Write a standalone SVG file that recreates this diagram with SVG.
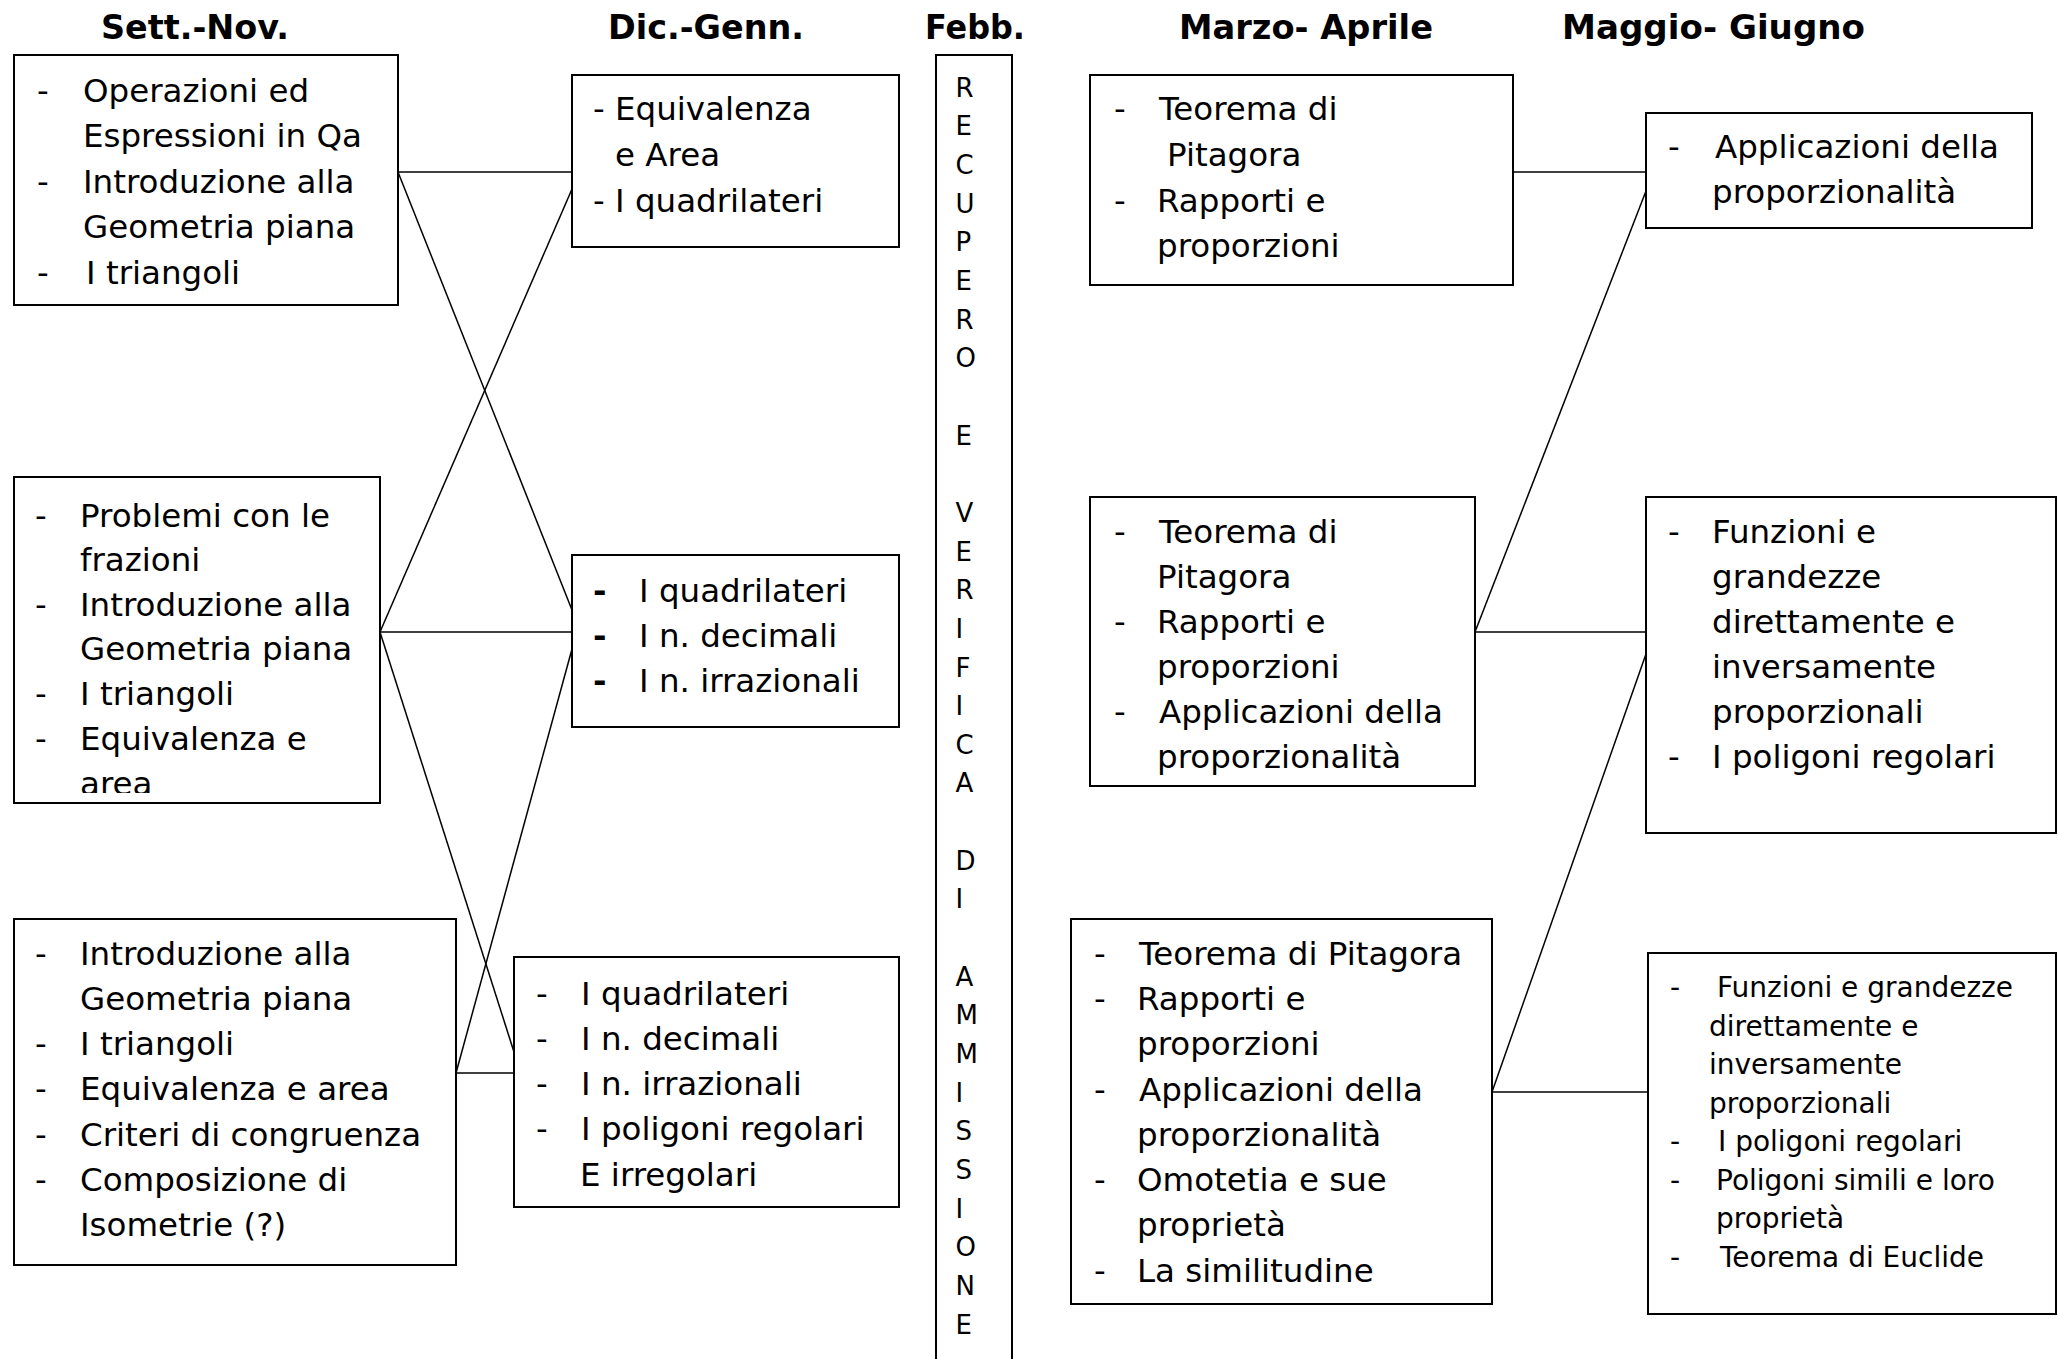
<svg xmlns="http://www.w3.org/2000/svg" width="2058" height="1359" viewBox="0 0 2058 1359">
<style>
.bg{fill:#fff}
.box{fill:#fff;stroke:#000;stroke-width:2}
.c line{stroke:#000;stroke-width:1.5}
text{font-family:"DejaVu Sans",Verdana,sans-serif;fill:#000}
.t{font-size:32.5px}
.s{font-size:28px}
.h{font-size:33px;font-weight:bold}
.v{font-size:26px}
.b{font-weight:bold}
</style>
<defs>
<clipPath id="clipA2"><rect x="14" y="477" width="366" height="316"/></clipPath>
</defs>
<rect class="bg" x="0" y="0" width="2058" height="1359"/>

<g id="headers">
<text class="h" x="101" y="39" textLength="188" lengthAdjust="spacingAndGlyphs">Sett.-Nov.</text>
<text class="h" x="608" y="39" textLength="196" lengthAdjust="spacingAndGlyphs">Dic.-Genn.</text>
<text class="h" x="925" y="39" textLength="100" lengthAdjust="spacingAndGlyphs">Febb.</text>
<text class="h" x="1179" y="39" textLength="254" lengthAdjust="spacingAndGlyphs">Marzo- Aprile</text>
<text class="h" x="1562" y="39" textLength="303" lengthAdjust="spacingAndGlyphs">Maggio- Giugno</text>
</g>

<g id="connectors" class="c">
<line x1="398" y1="172" x2="572" y2="172"/>
<line x1="398" y1="172" x2="572" y2="610"/>
<line x1="380" y1="632" x2="572" y2="189"/>
<line x1="380" y1="632" x2="572" y2="632"/>
<line x1="380" y1="632" x2="514" y2="1052"/>
<line x1="456" y1="1073" x2="572" y2="649"/>
<line x1="456" y1="1073" x2="514" y2="1073"/>
<line x1="1513" y1="172" x2="1646" y2="172"/>
<line x1="1475" y1="632" x2="1646" y2="191"/>
<line x1="1475" y1="632" x2="1646" y2="632"/>
<line x1="1492" y1="1092" x2="1646" y2="654"/>
<line x1="1492" y1="1092" x2="1648" y2="1092"/>
</g>

<g id="node-a1">
<rect class="box" x="14" y="55" width="384" height="250"/>
<text class="t"><tspan x="37" y="102">-</tspan><tspan x="83" y="102">Operazioni ed</tspan><tspan x="83" y="147">Espressioni in Qa</tspan><tspan x="37" y="193">-</tspan><tspan x="83" y="193">Introduzione alla</tspan><tspan x="83" y="238">Geometria piana</tspan><tspan x="37" y="284">-</tspan><tspan x="86" y="284">I triangoli</tspan></text>
</g>

<g id="node-a2">
<rect class="box" x="14" y="477" width="366" height="326"/>
<text class="t" clip-path="url(#clipA2)"><tspan x="35" y="527">-</tspan><tspan x="80" y="527">Problemi con le</tspan><tspan x="80" y="571">frazioni</tspan><tspan x="35" y="616">-</tspan><tspan x="80" y="616">Introduzione alla</tspan><tspan x="80" y="660">Geometria piana</tspan><tspan x="35" y="705">-</tspan><tspan x="80" y="705">I triangoli</tspan><tspan x="35" y="750">-</tspan><tspan x="80" y="750">Equivalenza e</tspan><tspan x="80" y="795">area</tspan></text>
</g>

<g id="node-a3">
<rect class="box" x="14" y="919" width="442" height="346"/>
<text class="t"><tspan x="35" y="965">-</tspan><tspan x="80" y="965">Introduzione alla</tspan><tspan x="80" y="1010">Geometria piana</tspan><tspan x="35" y="1055">-</tspan><tspan x="80" y="1055">I triangoli</tspan><tspan x="35" y="1100">-</tspan><tspan x="80" y="1100">Equivalenza e area</tspan><tspan x="35" y="1146">-</tspan><tspan x="80" y="1146">Criteri di congruenza</tspan><tspan x="35" y="1191">-</tspan><tspan x="80" y="1191">Composizione di</tspan><tspan x="80" y="1236">Isometrie (?)</tspan></text>
</g>

<g id="node-b1">
<rect class="box" x="572" y="75" width="327" height="172"/>
<text class="t"><tspan x="593" y="120">- Equivalenza</tspan><tspan x="615" y="166">e Area</tspan><tspan x="593" y="212">- I quadrilateri</tspan></text>
</g>

<g id="node-b2">
<rect class="box" x="572" y="555" width="327" height="172"/>
<text class="t"><tspan class="b" x="593" y="602">-</tspan><tspan x="639" y="602">I quadrilateri</tspan><tspan class="b" x="593" y="647">-</tspan><tspan x="639" y="647">I n. decimali</tspan><tspan class="b" x="593" y="692">-</tspan><tspan x="639" y="692">I n. irrazionali</tspan></text>
</g>

<g id="node-b3">
<rect class="box" x="514" y="957" width="385" height="250"/>
<text class="t"><tspan x="536" y="1005">-</tspan><tspan x="581" y="1005">I quadrilateri</tspan><tspan x="536" y="1050">-</tspan><tspan x="581" y="1050">I n. decimali</tspan><tspan x="536" y="1095">-</tspan><tspan x="581" y="1095">I n. irrazionali</tspan><tspan x="536" y="1140">-</tspan><tspan x="581" y="1140">I poligoni regolari</tspan><tspan x="580" y="1186">E irregolari</tspan></text>
</g>

<g id="node-febb">
<rect class="box" x="936" y="55" width="76" height="1320"/>
<text class="v"><tspan x="955.5" y="96.7">R</tspan><tspan x="955.5" y="135.4">E</tspan><tspan x="955.5" y="174">C</tspan><tspan x="955.5" y="212.7">U</tspan><tspan x="955.5" y="251.3">P</tspan><tspan x="955.5" y="290">E</tspan><tspan x="955.5" y="328.6">R</tspan><tspan x="955.5" y="367.3">O</tspan><tspan x="955.5" y="444.6">E</tspan><tspan x="955.5" y="521.9">V</tspan><tspan x="955.5" y="560.5">E</tspan><tspan x="955.5" y="599.2">R</tspan><tspan x="955.5" y="637.8">I</tspan><tspan x="955.5" y="676.5">F</tspan><tspan x="955.5" y="715.1">I</tspan><tspan x="955.5" y="753.8">C</tspan><tspan x="955.5" y="792.4">A</tspan><tspan x="955.5" y="869.7">D</tspan><tspan x="955.5" y="908.4">I</tspan><tspan x="955.5" y="985.7">A</tspan><tspan x="955.5" y="1024.3">M</tspan><tspan x="955.5" y="1063">M</tspan><tspan x="955.5" y="1101.6">I</tspan><tspan x="955.5" y="1140.3">S</tspan><tspan x="955.5" y="1178.9">S</tspan><tspan x="955.5" y="1217.6">I</tspan><tspan x="955.5" y="1256.2">O</tspan><tspan x="955.5" y="1294.9">N</tspan><tspan x="955.5" y="1333.5">E</tspan></text>
</g>

<g id="node-c1">
<rect class="box" x="1090" y="75" width="423" height="210"/>
<text class="t"><tspan x="1114" y="120">-</tspan><tspan x="1159" y="120">Teorema di</tspan><tspan x="1167" y="166">Pitagora</tspan><tspan x="1114" y="212">-</tspan><tspan x="1157" y="212">Rapporti e</tspan><tspan x="1157" y="257">proporzioni</tspan></text>
</g>

<g id="node-c2">
<rect class="box" x="1090" y="497" width="385" height="289"/>
<text class="t"><tspan x="1114" y="543">-</tspan><tspan x="1159" y="543">Teorema di</tspan><tspan x="1157" y="588">Pitagora</tspan><tspan x="1114" y="633">-</tspan><tspan x="1157" y="633">Rapporti e</tspan><tspan x="1157" y="678">proporzioni</tspan><tspan x="1114" y="723">-</tspan><tspan x="1159" y="723">Applicazioni della</tspan><tspan x="1157" y="768">proporzionalità</tspan></text>
</g>

<g id="node-c3">
<rect class="box" x="1071" y="919" width="421" height="385"/>
<text class="t"><tspan x="1094" y="965">-</tspan><tspan x="1139" y="965">Teorema di Pitagora</tspan><tspan x="1094" y="1010">-</tspan><tspan x="1137" y="1010">Rapporti e</tspan><tspan x="1137" y="1055">proporzioni</tspan><tspan x="1094" y="1101">-</tspan><tspan x="1139" y="1101">Applicazioni della</tspan><tspan x="1137" y="1146">proporzionalità</tspan><tspan x="1094" y="1191">-</tspan><tspan x="1137" y="1191">Omotetia e sue</tspan><tspan x="1137" y="1236">proprietà</tspan><tspan x="1094" y="1282">-</tspan><tspan x="1137" y="1282">La similitudine</tspan></text>
</g>

<g id="node-d1">
<rect class="box" x="1646" y="113" width="386" height="115"/>
<text class="t"><tspan x="1668" y="158">-</tspan><tspan x="1715" y="158">Applicazioni della</tspan><tspan x="1712" y="203">proporzionalità</tspan></text>
</g>

<g id="node-d2">
<rect class="box" x="1646" y="497" width="410" height="336"/>
<text class="t"><tspan x="1668" y="543">-</tspan><tspan x="1712" y="543">Funzioni e</tspan><tspan x="1712" y="588">grandezze</tspan><tspan x="1712" y="633">direttamente e</tspan><tspan x="1712" y="678">inversamente</tspan><tspan x="1712" y="723">proporzionali</tspan><tspan x="1668" y="768">-</tspan><tspan x="1712" y="768">I poligoni regolari</tspan></text>
</g>

<g id="node-d3">
<rect class="box" x="1648" y="953" width="408" height="361"/>
<text class="s"><tspan x="1670" y="997">-</tspan><tspan x="1717" y="997">Funzioni e grandezze</tspan><tspan x="1709" y="1035.5">direttamente e</tspan><tspan x="1709" y="1074">inversamente</tspan><tspan x="1709" y="1112.5">proporzionali</tspan><tspan x="1670" y="1151">-</tspan><tspan x="1718" y="1151">I poligoni regolari</tspan><tspan x="1670" y="1189.5">-</tspan><tspan x="1716" y="1189.5">Poligoni simili e loro</tspan><tspan x="1716" y="1228">proprietà</tspan><tspan x="1670" y="1266.5">-</tspan><tspan x="1720" y="1266.5">Teorema di Euclide</tspan></text>
</g>
</svg>
